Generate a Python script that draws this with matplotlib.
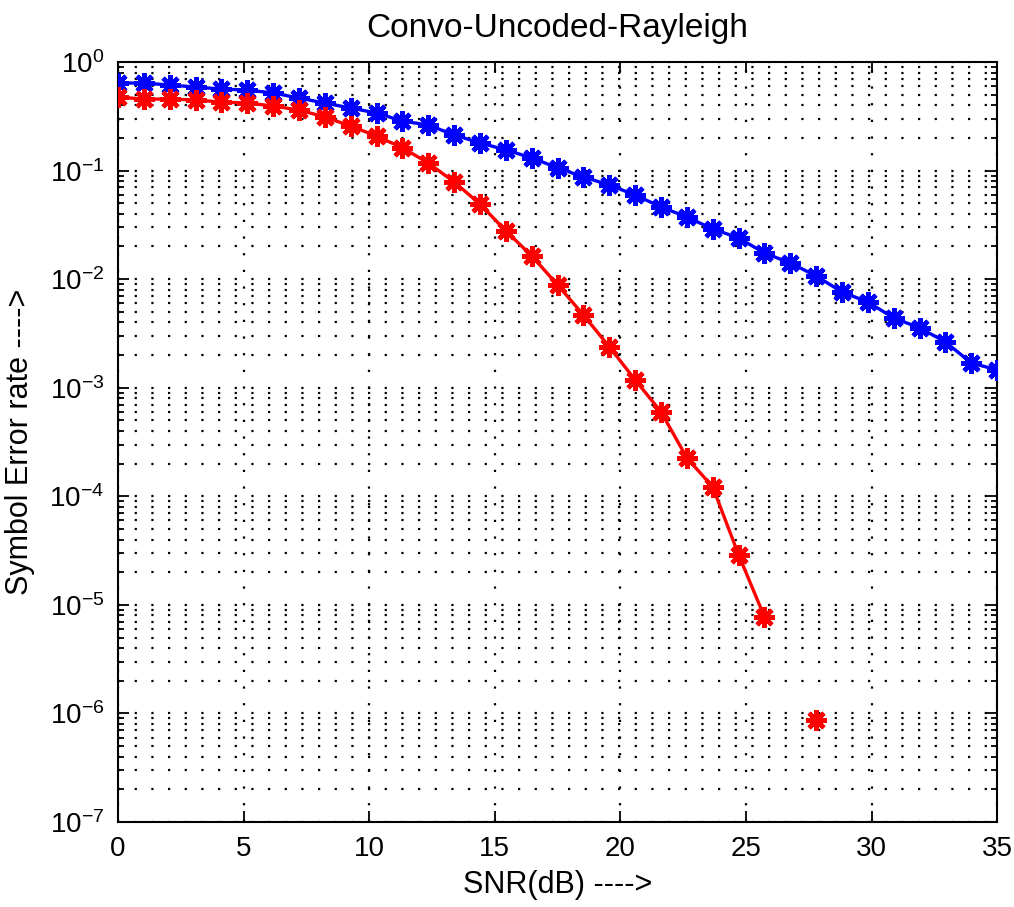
import numpy as np
import matplotlib
matplotlib.use("Agg")
import matplotlib.pyplot as plt
from matplotlib.ticker import LogLocator, NullFormatter, FixedLocator

plt.rcParams['font.family'] = ['Liberation Sans', 'DejaVu Sans']
plt.rcParams['mathtext.fontset'] = 'custom'
plt.rcParams['mathtext.rm'] = 'Liberation Sans'
plt.rcParams['mathtext.it'] = 'Liberation Sans'

# Data
snr_db = np.linspace(0, 35, 35)

ser_uncoded = [0.641, 0.641, 0.614, 0.589, 0.564, 0.552, 0.519, 0.466, 0.419,
               0.377, 0.339, 0.286, 0.263, 0.213, 0.180, 0.155, 0.131, 0.106,
               0.0873, 0.0737, 0.0596, 0.0462, 0.0374, 0.0290, 0.0240, 0.0174,
               0.0141, 0.0107, 0.00762, 0.00616, 0.00439, 0.00356, 0.00264,
               0.00169, 0.00146]

ser_convo = [0.476, 0.456, 0.456, 0.447, 0.428, 0.419, 0.394, 0.361, 0.312,
             0.257, 0.208, 0.162, 0.1175, 0.0785, 0.0492, 0.0278, 0.0164,
             0.00885, 0.00468, 0.00238, 0.00118, 5.99e-4, 2.26e-4, 1.22e-4,
             2.89e-5, 7.76e-6, np.nan, 8.73e-7, np.nan, np.nan, np.nan, np.nan,
             np.nan, np.nan, np.nan]

title = "Convo-Uncoded-Rayleigh"
xlabel = "SNR(dB) ---->"
ylabel = "Symbol Error rate ---->"
xticks = [0, 5, 10, 15, 20, 25, 30, 35]

fig = plt.figure(figsize=(10.14, 9.07), dpi=100)
ax = fig.add_axes([0.1164, 0.0937, 0.867, 0.8379])

marker = (8, 2, 0)
ax.semilogy(snr_db, ser_uncoded, color='#0000ff', lw=2.4, marker=marker,
            ms=15, mew=3.2, zorder=3)
ax.semilogy(snr_db, ser_convo, color='#ff0000', lw=2.4, marker=marker,
            ms=15, mew=3.2, zorder=3)

ax.set_xlim(0, 35)
ax.set_ylim(1e-7, 1e0)
ax.xaxis.set_major_locator(FixedLocator(xticks))
ax.yaxis.set_major_locator(LogLocator(base=10, numticks=20))
ax.yaxis.set_minor_locator(LogLocator(base=10, subs=np.arange(2, 10), numticks=20))
ax.yaxis.set_minor_formatter(NullFormatter())

gridstyle = dict(color='black', linestyle=(0, (1, 6.5)), linewidth=1.6)
ax.grid(True, which='major', axis='both', **gridstyle)
ax.grid(True, which='minor', axis='y', **gridstyle)

ax.tick_params(which='both', direction='in', top=True, right=True,
               labelsize=20, width=1.3, colors='black')
ax.tick_params(which='major', length=8, pad=10)
ax.tick_params(which='minor', length=4)
for s in ax.spines.values():
    s.set_linewidth(1.5)

ax.set_title(title, fontsize=24, pad=18)
ax.set_xlabel(xlabel, fontsize=22, labelpad=6)
ax.set_ylabel(ylabel, fontsize=22, labelpad=10)

fig.savefig("out.png", dpi=100)
